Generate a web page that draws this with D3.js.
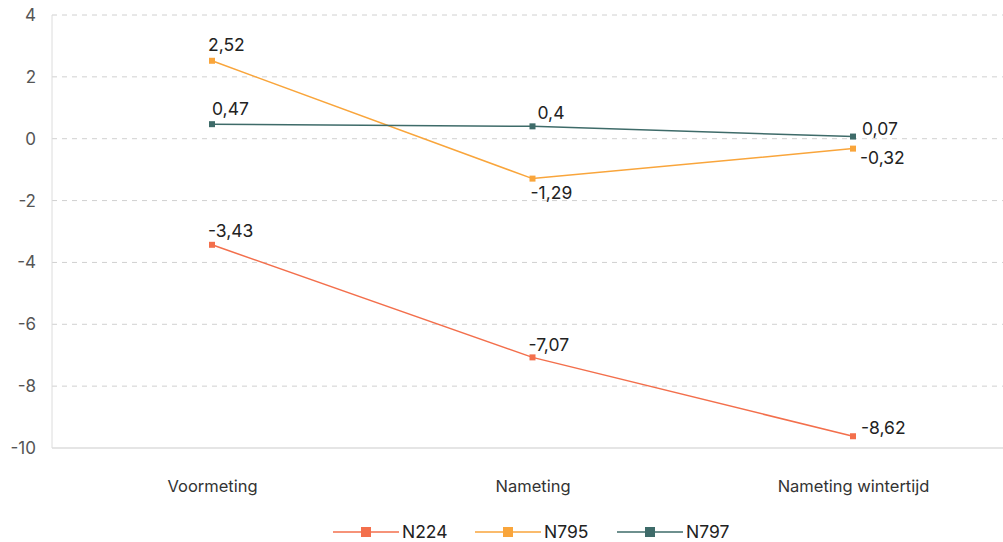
<!DOCTYPE html>
<html><head><meta charset="utf-8">
<script src="https://cdn.jsdelivr.net/npm/d3@7"></script>
<style>
html,body{margin:0;padding:0;background:#fff;}
svg{display:block;font-family:Inter, "Noto Sans", sans-serif;}
</style></head>
<body><svg id="c" width="1003" height="542"></svg>
<script>
const categories = ["Voormeting", "Nameting", "Nameting wintertijd"];
const seriesNames = ["N224", "N795", "N797"];
// plotted positions
const N224 = [-3.43, -7.07, -9.62];
const N795 = [2.52, -1.29, -0.32];
const N797 = [0.47, 0.4, 0.07];
// label texts as printed in the picture
const N224Labels = ["-3,43", "-7,07", "-8,62"];
const N795Labels = ["2,52", "-1,29", "-0,32"];
const N797Labels = ["0,47", "0,4", "0,07"];
const yTicks = [4, 2, 0, -2, -4, -6, -8, -10];
const colors = ["#f36f4c", "#f9a53b", "#3e6b69"];

// label placement offsets [dx, dy] per series per category
const labelPos = {
  N224: [[-4,-14],[-4,-13],[8,-8]],
  N795: [[-4,-16],[-2,14],[7,9]],
  N797: [[0,-15],[5,-13],[9,-8]]
};

const svg = d3.select("#c");
const y = d3.scaleLinear().domain([-10,4]).range([448,15]);
const x = d3.scalePoint().domain(categories).range([212,853]);
const FONT = "Inter, 'Noto Sans', sans-serif";

// gridlines
svg.append("g").selectAll("line").data(yTicks.filter(d=>d!==-10)).join("line")
  .attr("x1",52).attr("x2",1003).attr("y1",d=>y(d)).attr("y2",d=>y(d))
  .attr("stroke","#d0d0d0").attr("stroke-width",1).attr("stroke-dasharray","5,5");
// axes lines
svg.append("line").attr("x1",52).attr("x2",52).attr("y1",y(4)).attr("y2",y(-10)).attr("stroke","#dcdcdc").attr("stroke-width",1);
svg.append("line").attr("x1",52).attr("x2",1003).attr("y1",y(-10)).attr("y2",y(-10)).attr("stroke","#dcdcdc").attr("stroke-width",1.5);

// y tick labels
const yAxis = d3.axisLeft(y).tickValues(yTicks).tickSize(0).tickPadding(0).tickFormat(d=>String(d));
const ya = svg.append("g").attr("transform","translate(36,0)").call(yAxis);
ya.select(".domain").remove();
ya.selectAll("text").attr("font-size",17).attr("fill","#555").attr("font-family",FONT);

// x labels
const xAxis = d3.axisBottom(x).tickSize(0).tickPadding(0);
const xa = svg.append("g").attr("transform","translate(0,486)").call(xAxis);
xa.select(".domain").remove();
xa.selectAll("text").attr("font-size",16.5).attr("fill","#333").attr("dy","0.35em").attr("font-family",FONT);

const data = [N224, N795, N797];
const labels = [N224Labels, N795Labels, N797Labels];
const line = d3.line().x((d,i)=>x(categories[i])).y(d=>y(d));

data.forEach((vals, si) => {
  const g = svg.append("g");
  g.append("path").datum(vals).attr("d", line).attr("fill","none")
    .attr("stroke", colors[si]).attr("stroke-width",1.5);
  g.selectAll("rect").data(vals).join("rect")
    .attr("x",(d,i)=>x(categories[i])-3).attr("y",d=>y(d)-3)
    .attr("width",6).attr("height",6).attr("fill",colors[si]);
});
data.forEach((vals, si) => {
  const pos = labelPos[seriesNames[si]];
  svg.append("g").selectAll("text").data(vals).join("text")
    .attr("x",(d,i)=>x(categories[i])+pos[i][0])
    .attr("y",(d,i)=>y(d)+pos[i][1])
    .attr("dy","0.35em")
    .attr("font-size",17.5).attr("fill","#222")
    .text((d,i)=>labels[si][i]);
});

// legend
const legendX = [333, 475, 617];
const lg = svg.append("g").attr("transform","translate(0,532)");
seriesNames.forEach((name, i) => {
  const gx = legendX[i];
  lg.append("line").attr("x1",gx).attr("x2",gx+66).attr("y1",0).attr("y2",0).attr("stroke",colors[i]).attr("stroke-width",1.5);
  lg.append("rect").attr("x",gx+28).attr("y",-5).attr("width",10).attr("height",10).attr("fill",colors[i]);
  lg.append("text").attr("x",gx+69).attr("y",0).attr("dy","0.35em").attr("font-size",17.5).attr("fill","#222").text(name);
});
</script></body></html>
